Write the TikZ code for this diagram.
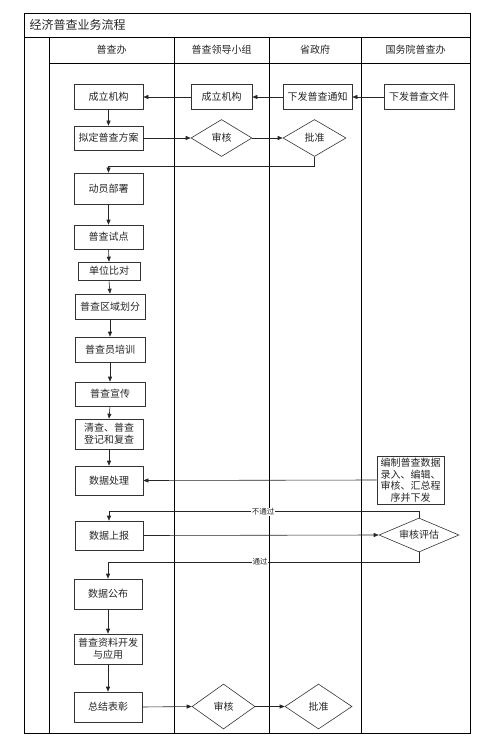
\documentclass[tikz,border=0pt]{standalone}
\usepackage{fontspec}
\setmainfont{Noto Sans CJK SC}
\usetikzlibrary{shapes.geometric,arrows.meta}
\begin{document}
\begin{tikzpicture}[x=1pt,y=-1pt,
  frame/.style={draw=black,line width=0.7pt},
  box/.style={draw=black!80,line width=0.6pt,rectangle,inner sep=0pt,align=center,font=\fontsize{10}{12}\selectfont,text=black!85},
  dia/.style={draw=black!80,line width=0.6pt,diamond,inner sep=0pt,font=\fontsize{10}{12}\selectfont,text=black!85},
  conn/.style={draw=black!85,line width=0.6pt},
  arr/.style={conn,-{Triangle[length=5pt,width=4pt]}},
  lbl/.style={fill=white,inner sep=0.5pt,font=\fontsize{7.5}{9}\selectfont,text=black!85},
  head/.style={font=\fontsize{10}{12}\selectfont,text=black!85}]
\useasboundingbox (0,0) rectangle (492,751);
% frame and lanes
\draw[frame] (24,13) rectangle (470,733);
\draw[frame] (24,37) -- (470,37);
\draw[frame] (49,63) -- (470,63);
\draw[frame] (49,37) -- (49,733);
\draw[frame] (174,37) -- (174,733);
\draw[frame] (269,37) -- (269,733);
\draw[frame] (361,37) -- (361,733);
\node[anchor=west,font=\fontsize{12}{14}\selectfont,text=black!85] (title) at (26,25) {经济普查业务流程};
\node[head] (h1) at (111.5,50) {普查办};
\node[head] (h2) at (221.5,50) {普查领导小组};
\node[head] (h3) at (315,50) {省政府};
\node[head] (h4) at (415.5,50) {国务院普查办};
% nodes
\node[box,minimum width=69pt,minimum height=25pt] (c1) at (108.5,97) {成立机构};
\node[box,minimum width=61pt,minimum height=25pt] (c2) at (221.5,97) {成立机构};
\node[box,minimum width=69pt,minimum height=25pt] (c3) at (317.5,97) {下发普查通知};
\node[box,minimum width=70pt,minimum height=25pt] (c4) at (419,97) {下发普查文件};
\node[box,minimum width=69pt,minimum height=24pt] (n1) at (108.5,138) {拟定普查方案};
\node[dia,minimum width=61pt,minimum height=37pt,shape aspect=1.65] (d1) at (221.5,138) {审核};
\node[dia,minimum width=63pt,minimum height=37pt,shape aspect=1.7] (d2) at (314.5,138) {批准};
\node[box,minimum width=69pt,minimum height=31pt] (n2) at (108.5,188.5) {动员部署};
\node[box,minimum width=69pt,minimum height=24pt] (n3) at (108.5,237) {普查试点};
\node[box,minimum width=62pt,minimum height=18pt] (n4) at (109,271) {单位比对};
\node[box,minimum width=70pt,minimum height=25pt] (n5) at (110,306.5) {普查区域划分};
\node[box,minimum width=70pt,minimum height=25pt] (n6) at (110,349.5) {普查员培训};
\node[box,minimum width=70pt,minimum height=24pt] (n7) at (110,394) {普查宣传};
\node[box,minimum width=68pt,minimum height=30pt] (n8) at (109,434) {清查、普查\\登记和复查};
\node[box,minimum width=68pt,minimum height=29pt] (n9) at (109,480.5) {数据处理};
\node[box,minimum width=68pt,minimum height=29pt] (n10) at (109,535.5) {数据上报};
\node[box,minimum width=68pt,minimum height=30pt] (n11) at (108,594) {数据公布};
\node[box,minimum width=68pt,minimum height=30pt] (n12) at (108,649) {普查资料开发\\与应用};
\node[box,minimum width=68pt,minimum height=30pt] (n13) at (108,707) {总结表彰};
\node[dia,minimum width=63pt,minimum height=45pt,shape aspect=1.4] (d3) at (223.5,706.5) {审核};
\node[dia,minimum width=67pt,minimum height=45pt,shape aspect=1.5] (d4) at (318.5,706.5) {批准};
\node[box,minimum width=67pt,minimum height=48pt,font=\fontsize{10}{11.5}\selectfont] (e1) at (410.5,480) {编制普查数据\\录入、编辑、\\审核、汇总程\\序并下发};
\node[dia,minimum width=80pt,minimum height=34pt,shape aspect=2.35] (d5) at (419,535) {审核评估};
% connectors
\draw[arr] (c4.west) -- (c3.east);
\draw[arr] (c3.west) -- (c2.east);
\draw[arr] (c2.west) -- (c1.east);
\draw[arr] (c1.south) -- (n1.north);
\draw[arr] (n1.east) -- (d1.west);
\draw[arr] (d1.east) -- (d2.west);
\draw[arr] (d2.south) -- ++(0,9.5) -| (n2.north);
\draw[arr] (n2.south) -- (n3.north);
\draw[arr] (n3.south) -- (n4.north);
\draw[arr] (n4.south) -- (n5.north);
\draw[arr] (n5.south) -- (n6.north);
\draw[arr] (n6.south) -- (n7.north);
\draw[arr] (n7.south) -- (n8.north);
\draw[arr] (n8.south) -- (n9.north);
\draw[arr] (e1.west) -- (n9.east);
\draw[arr] (d5.north) -- ++(0,-6) -| (n10.north);
\node[lbl] (l1) at (263,512) {不通过};
\draw[arr] (n10.east) -- (d5.west);
\draw[arr] (d5.south) -- ++(0,10) -| (n11.north);
\node[lbl] (l2) at (260,562) {通过};
\draw[arr] (n11.south) -- (n12.north);
\draw[arr] (n12.south) -- (n13.north);
\draw[arr] (n13.east) -- (d3.west);
\draw[arr] (d3.east) -- (d4.west);
\end{tikzpicture}
\end{document}
